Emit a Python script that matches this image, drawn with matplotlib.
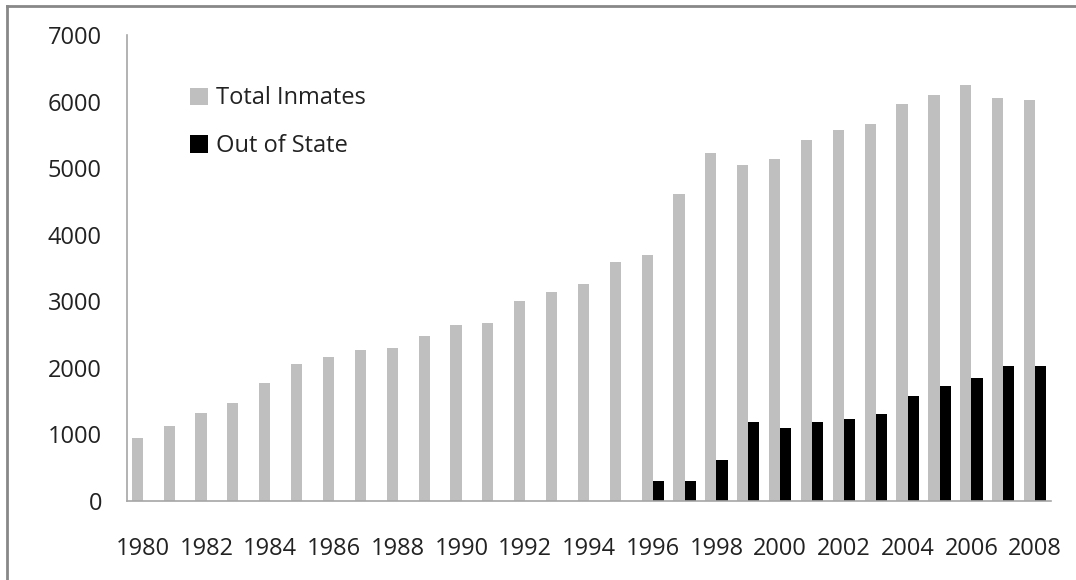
import numpy as np
import matplotlib.pyplot as plt
from matplotlib.lines import Line2D

plt.rcParams['font.family'] = ['Open Sans', 'DejaVu Sans']

years = list(range(1980, 2009))
total_inmates = [940, 1130, 1320, 1476, 1768, 2059, 2154, 2270, 2290, 2480,
                 2641, 2672, 3003, 3138, 3253, 3584, 3695, 4608, 5226, 5051,
                 5131, 5422, 5578, 5669, 5959, 6095, 6250, 6060, 6020]
out_of_state = [0, 0, 0, 0, 0, 0, 0, 0, 0, 0,
                0, 0, 0, 0, 0, 0, 297, 297, 608, 1185,
                1090, 1185, 1226, 1301, 1572, 1727, 1843, 2018, 2018]
tick_years = [str(y) for y in years[::2]]

fig = plt.figure(figsize=(10.76, 5.8), dpi=100)
ax = fig.add_axes([0.118, 0.1367, 0.8588, 0.803])

x = np.arange(len(years))
w = 0.35
b1 = ax.bar(x - w / 2, total_inmates, width=w, color='#bfbfbf', label='Total Inmates')
b2 = ax.bar(x + w / 2, out_of_state, width=w, color='#000000', label='Out of State')

ax.set_xlim(-0.5, len(years) - 0.5)
ax.set_ylim(0, 7000)
ax.set_yticks(range(0, 7001, 1000))
ax.set_xticks(x[::2])
ax.set_xticklabels(tick_years)

for s in ['top', 'right']:
    ax.spines[s].set_visible(False)
for s in ['left', 'bottom']:
    ax.spines[s].set_color('#a6a6a6')
    ax.spines[s].set_linewidth(1.2)
ax.tick_params(axis='both', length=0, labelsize=17, colors='#222222')
ax.tick_params(axis='y', pad=18)
ax.tick_params(axis='x', pad=26)

ax.legend(handles=[b1, b2], loc='upper left', bbox_to_anchor=(0.045, 0.935),
          frameon=False, fontsize=17, handlelength=0.75, handleheight=0.75,
          handletextpad=0.35, labelspacing=1.0, labelcolor='#222222')

# outer frame (only left and top edges visible in the image)
fig.add_artist(Line2D([7 / 1076, 7 / 1076], [0, 574 / 580], color='#888888', lw=2))
fig.add_artist(Line2D([7 / 1076, 1], [574 / 580, 574 / 580], color='#888888', lw=2))

fig.savefig('out.png', dpi=100)
